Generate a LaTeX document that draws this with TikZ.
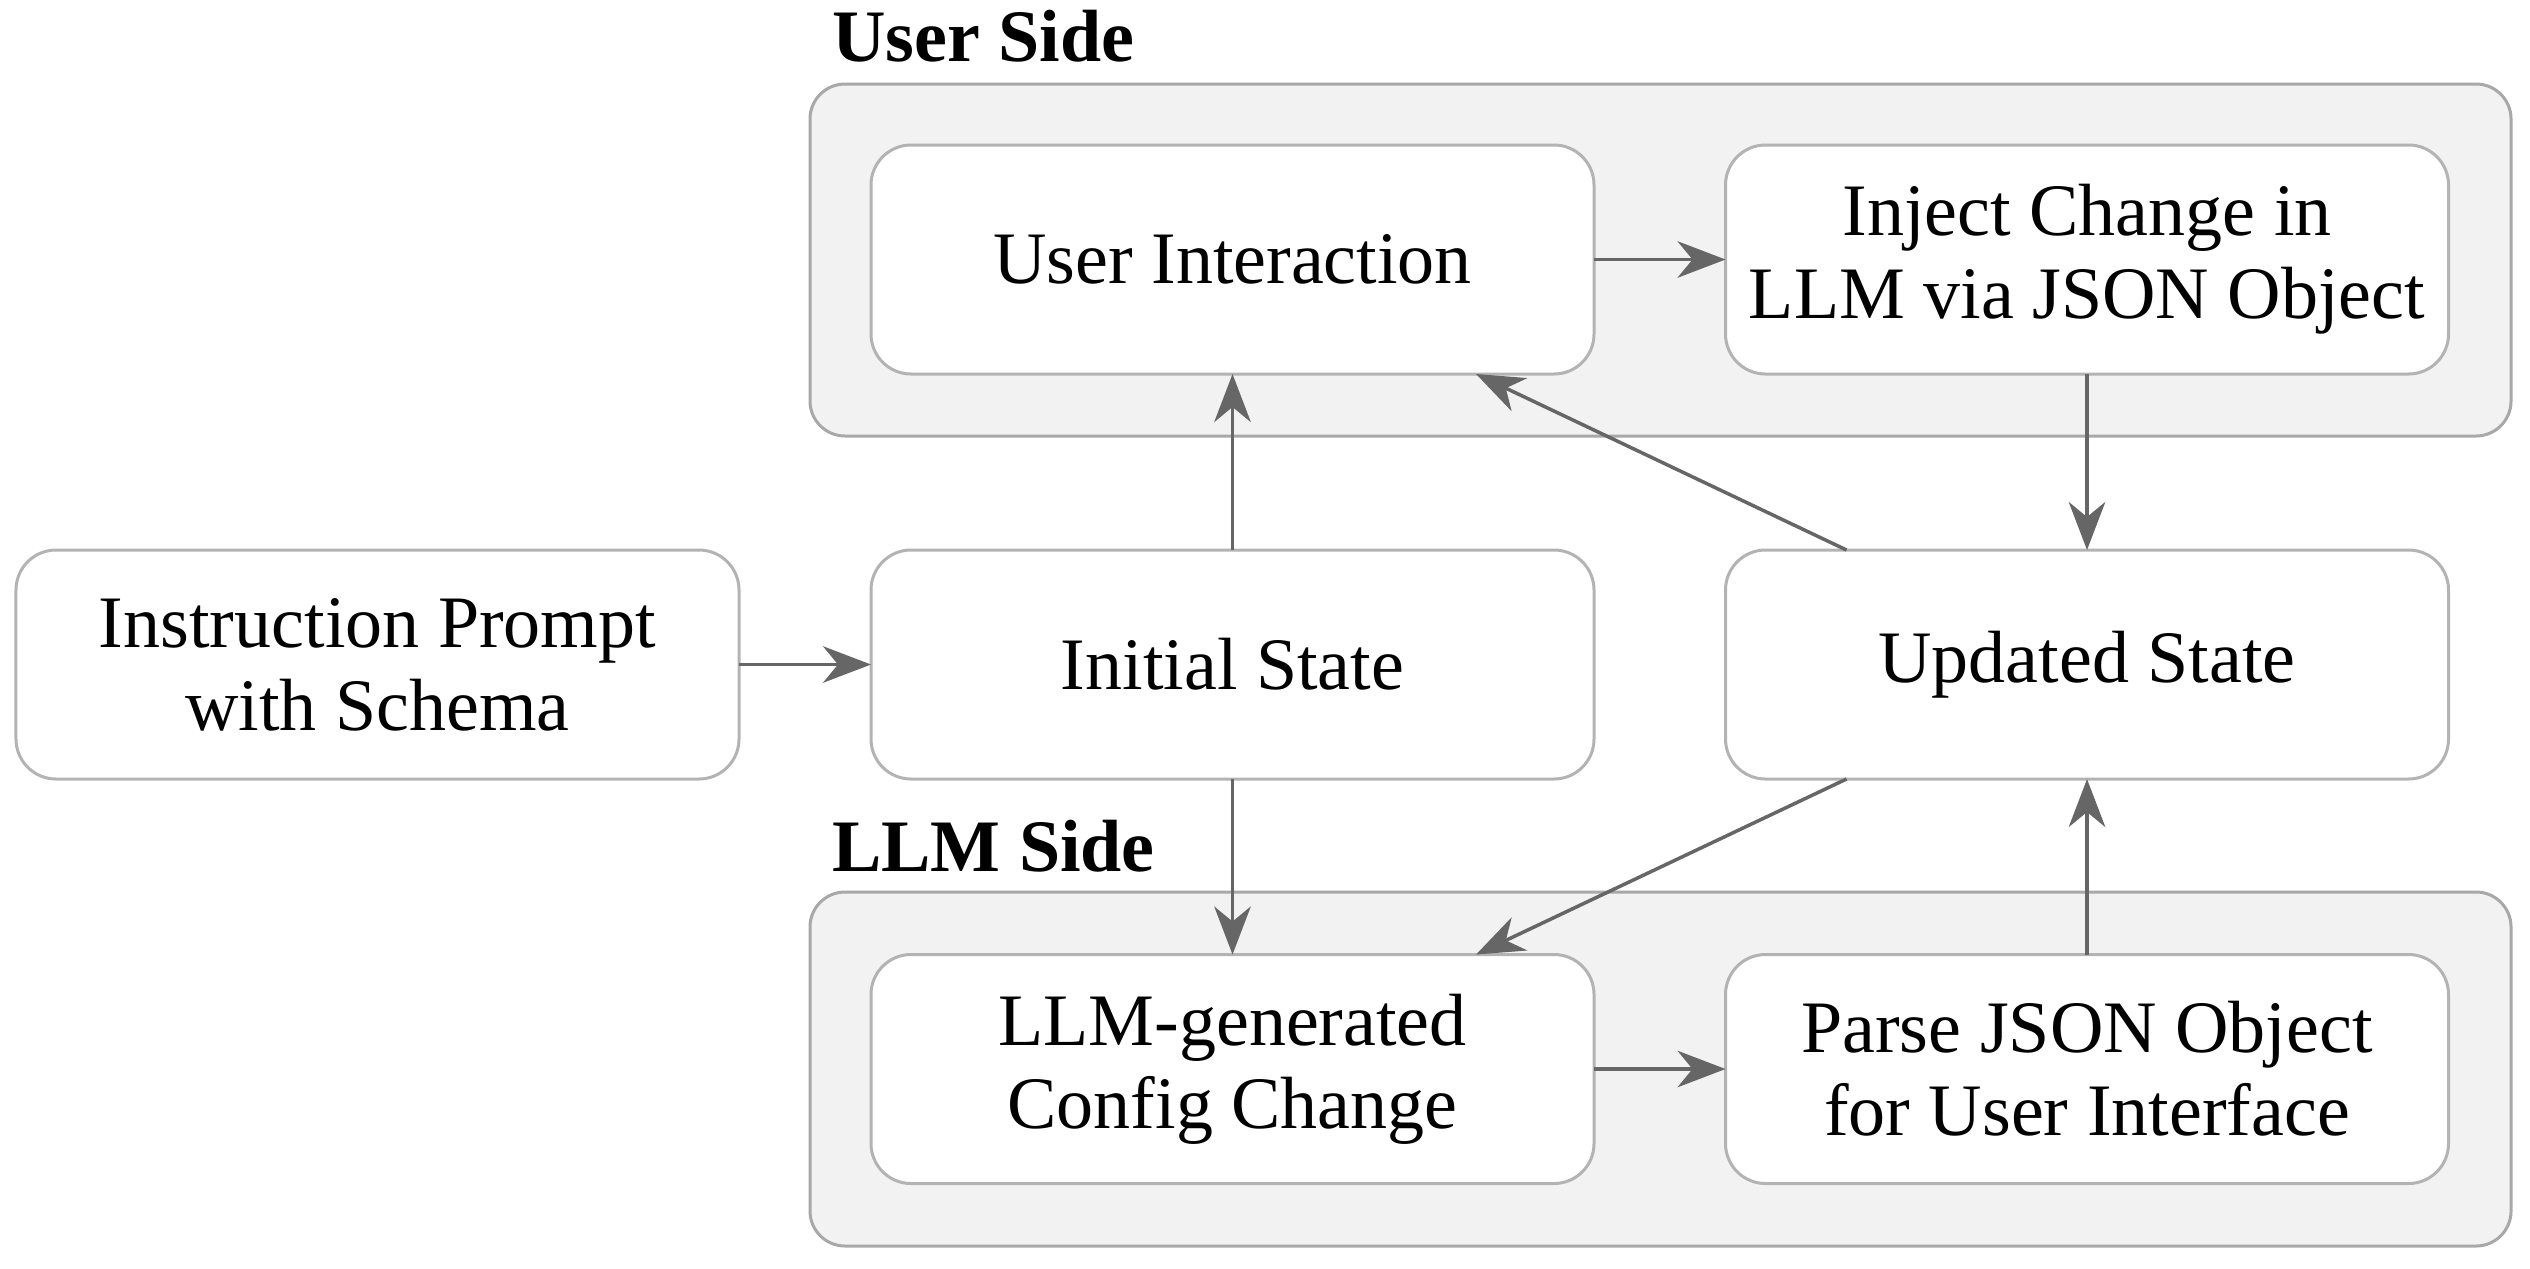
\documentclass[tikz,border=0pt]{standalone}
\usepackage{fontspec}
\setmainfont{Liberation Serif}
\usetikzlibrary{arrows.meta}
\definecolor{boxline}{HTML}{B3B3B3}
\definecolor{contline}{HTML}{A8A8A8}
\definecolor{contfill}{HTML}{F2F2F2}
\definecolor{arrcol}{HTML}{666666}
\tikzset{
  stepbox/.style={draw=boxline, line width=0.6pt, fill=white, rounded corners=8pt,
    minimum width=144.6pt, minimum height=45.8pt, inner sep=0pt, outer sep=0pt,
    align=center, font=\fontsize{14.8}{16.6}\selectfont},
  container/.style={draw=contline, line width=0.6pt, fill=contfill, rounded corners=7pt,
    minimum width=340.2pt, inner sep=0pt, outer sep=0pt},
  sidelabel/.style={anchor=base west, inner sep=0pt, font=\fontsize{14.8}{16.6}\selectfont\bfseries},
  arr/.style={draw=arrcol, line width=0.7pt, -{Stealth[length=9.6pt,width=7.3pt,inset=3pt]}}
}
\begin{document}
\begin{tikzpicture}[x=0.2pt,y=-0.2pt]
\useasboundingbox (0,0) rectangle (2530,1268);
% containers
\node[container, minimum height=70.4pt] (userc) at (1660.5,260) {};
\node[container, minimum height=70.8pt] (llmc) at (1660.5,1069) {};
\node[sidelabel] (userlab) at (831,61) {User Side};
\node[sidelabel] (llmlab) at (831,871) {LLM Side};
% boxes
\node[stepbox] (ui) at (1232.5,259.5) {User Interaction};
\node[stepbox] (inj) at (2087,259.5) {Inject Change in\\LLM via JSON Object};
\node[stepbox] (ins) at (377.5,664.5) {Instruction Prompt\\with Schema};
\node[stepbox] (init) at (1232.5,664.5) {Initial State};
\node[stepbox] (upd) at (2087,664.5) {Updated State};
\node[stepbox] (gen) at (1232.5,1069) {LLM-generated\\Config Change};
\node[stepbox] (parse) at (2087,1069) {Parse JSON Object\\for User Interface};
% arrows
\draw[arr] (ui) -- (inj);
\draw[arr] (inj) -- (upd);
\draw[arr] (ins) -- (init);
\draw[arr] (init) -- (ui);
\draw[arr] (init) -- (gen);
\draw[arr] (gen) -- (parse);
\draw[arr] (parse) -- (upd);
\draw[arr] ([xshift=24.2pt]upd.north west) -- ([xshift=-23.6pt]ui.south east);
\draw[arr] ([xshift=24.2pt]upd.south west) -- ([xshift=-23.6pt]gen.north east);
\end{tikzpicture}
\end{document}
